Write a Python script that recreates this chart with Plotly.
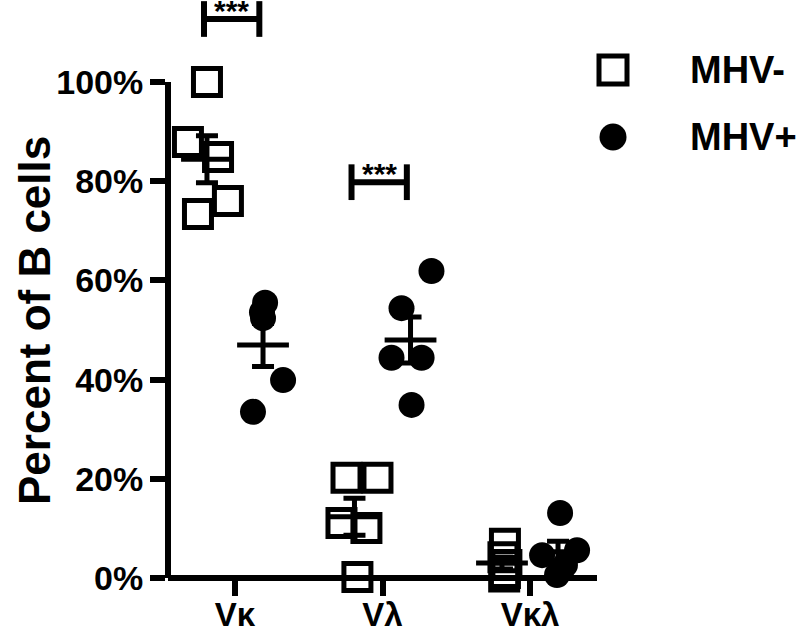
import numpy as np
import plotly.graph_objects as go

# ---------------- data ----------------
categories = ["Vκ", "Vλ", "Vκλ"]
series_names = ["MHV-", "MHV+"]

# percent of B cells, one list per series / category
mhv_neg_vk = [100.0, 87.9, 84.9, 76.0, 73.4]
mhv_neg_vl = [20.2, 20.2, 11.1, 10.1, 0.2]
mhv_neg_vkl = [6.9, 4.2, 2.6, 1.0, 0.3]

mhv_pos_vk = [55.5, 53.6, 52.4, 39.9, 33.5]
mhv_pos_vl = [61.9, 54.4, 44.4, 44.4, 34.9]
mhv_pos_vkl = [13.1, 4.6, 5.6, 2.6, 0.6]

# horizontal scatter of the dots inside each group (category units)
jitter_neg_vk = [0.0, -0.129, 0.075, 0.142, -0.061]
jitter_neg_vl = [-0.054, 0.156, -0.088, 0.081, 0.02]
jitter_neg_vkl = [0.02, 0.01, 0.03, 0.02, 0.015]
jitter_pos_vk = [0.014, -0.007, 0.0, 0.136, -0.068]
jitter_pos_vl = [0.142, -0.061, -0.129, 0.075, 0.007]
jitter_pos_vkl = [0.014, -0.108, 0.129, 0.047, -0.007]

y_ticks = [0, 20, 40, 60, 80, 100]
y_title = "Percent of B cells"

# significance brackets: (category, bracket level in %, label)
significance = [("Vκ", 112.7, "***"), ("Vλ", 79.8, "***")]

# ---------------- layout constants ----------------
W, H = 802, 633
ML, MR, MT, MB = 168, 0, 0, 55
PW, PH = W - ML - MR, H - MT - MB
X_DOM = [0, 429 / PW]
Y_DOM = [0, 496 / PH]
X_RANGE = [-0.4542, 2.4542]
Y_RANGE = [0, 100]
GROUP_OFF = [-0.19, 0.19]
FONT = "Liberation Sans, Arial, sans-serif"

series_values = [
    [mhv_neg_vk, mhv_neg_vl, mhv_neg_vkl],
    [mhv_pos_vk, mhv_pos_vl, mhv_pos_vkl],
]
series_jitter = [
    [jitter_neg_vk, jitter_neg_vl, jitter_neg_vkl],
    [jitter_pos_vk, jitter_pos_vl, jitter_pos_vkl],
]
symbols = [dict(symbol="square-open", size=27, line=dict(width=5, color="black"), color="black"),
           dict(symbol="circle", size=26, color="black", line=dict(width=0))]
legend_symbols = [dict(symbol="square-open", size=28, line=dict(width=5, color="black"), color="black"),
                  dict(symbol="circle", size=27, color="black", line=dict(width=0))]

fig = go.Figure()

# points
for s, name in enumerate(series_names):
    xs, ys = [], []
    for c in range(len(categories)):
        for v, j in zip(series_values[s][c], series_jitter[s][c]):
            xs.append(c + GROUP_OFF[s] + j)
            ys.append(v)
    fig.add_trace(go.Scatter(x=xs, y=ys, mode="markers", marker=symbols[s],
                             cliponaxis=False, showlegend=False, name=name))

# mean +/- SEM
for s, name in enumerate(series_names):
    mx, my, me = [], [], []
    for c in range(len(categories)):
        arr = np.array(series_values[s][c])
        mx.append(c + GROUP_OFF[s])
        my.append(arr.mean())
        me.append(arr.std(ddof=1) / np.sqrt(len(arr)))
    fig.add_trace(go.Scatter(
        x=mx, y=my, mode="markers", cliponaxis=False, showlegend=False,
        marker=dict(symbol="line-ew", size=37, line=dict(width=5, color="black")),
        error_y=dict(type="data", array=me, visible=True, thickness=5, width=11, color="black"),
    ))

# legend (drawn manually so marker sizes match)
for s, name in enumerate(series_names):
    fig.add_trace(go.Scatter(x=[0], y=[s], xaxis="x2", yaxis="y2", mode="markers",
                             marker=legend_symbols[s], showlegend=False, cliponaxis=False))
    fig.add_annotation(x=5, y=s, xref="x2", yref="y2", text=name, showarrow=False,
                       xanchor="left", yanchor="middle",
                       font=dict(family=FONT, size=38, color="black", weight="bold"))

# significance brackets
def ypaper(v):
    return (v - Y_RANGE[0]) / (Y_RANGE[1] - Y_RANGE[0]) * (Y_DOM[1] - Y_DOM[0]) + Y_DOM[0]

Y3_TOP = Y_RANGE[1] / Y_DOM[1]   # full-height helper axis in % units
for cat, lvl, lab in significance:
    c = categories.index(cat)
    x0, x1 = c - 0.21, c + 0.165
    line = dict(color="black", width=6)
    fig.add_shape(type="line", xref="x", yref="paper", x0=x0, x1=x1, y0=ypaper(lvl), y1=ypaper(lvl), line=line)
    for xe in (x0, x1):
        fig.add_shape(type="line", xref="x", yref="paper", x0=xe, x1=xe,
                      y0=ypaper(lvl - 3.6), y1=ypaper(lvl + 3.6), line=line)
    fig.add_annotation(x=(x0 + x1) / 2, y=lvl, xref="x", yref="y3", text=lab,
                       showarrow=False, xanchor="center", yanchor="middle", yshift=9,
                       font=dict(family=FONT, size=30, color="black", weight="bold"))

# y-axis title
fig.add_annotation(x=(34 - ML) / PW, y=(H - MB - 321) / PH, xref="paper", yref="paper",
                   text=y_title, textangle=-90, showarrow=False, xanchor="center", yanchor="middle",
                   font=dict(family=FONT, size=44, color="black", weight="bold"))

axis_common = dict(showline=True, linewidth=6, linecolor="black", ticks="outside",
                   ticklen=15, tickwidth=6, tickcolor="black", showgrid=False, zeroline=False,
                   automargin=False)
tick_font = dict(family=FONT, size=34, color="black", weight="bold")

fig.update_layout(
    template="none",
    width=W, height=H,
    margin=dict(l=ML, r=MR, t=MT, b=MB, pad=0, autoexpand=False),
    paper_bgcolor="white", plot_bgcolor="rgba(0,0,0,0)",
    showlegend=False,
    xaxis=dict(domain=X_DOM, range=X_RANGE, anchor="free", position=0, ticklabelstandoff=-10,
               tickvals=list(range(len(categories))), ticktext=categories,
               tickfont=dict(tick_font, size=33), **axis_common),
    yaxis=dict(domain=Y_DOM, range=Y_RANGE, anchor="free", position=0,
               tickvals=y_ticks, ticktext=[f"{t}%" for t in y_ticks],
               tickfont=tick_font, **axis_common),
    xaxis2=dict(domain=[(598 - ML) / PW, 1], range=[-1, (W - 598) / 15 - 1], visible=False,
                anchor="y2", fixedrange=True),
    yaxis2=dict(domain=[(H - MB - 170.5) / PH, (H - MB - 36.5) / PH], range=[1.5, -0.5],
                visible=False, anchor="x2", fixedrange=True),
    yaxis3=dict(domain=[0, 1], range=[0, Y3_TOP], visible=False, anchor="x", fixedrange=True),
)

fig.write_html("out.html", config={"displayModeBar": False},
               post_script="document.body.style.margin='0px';")
